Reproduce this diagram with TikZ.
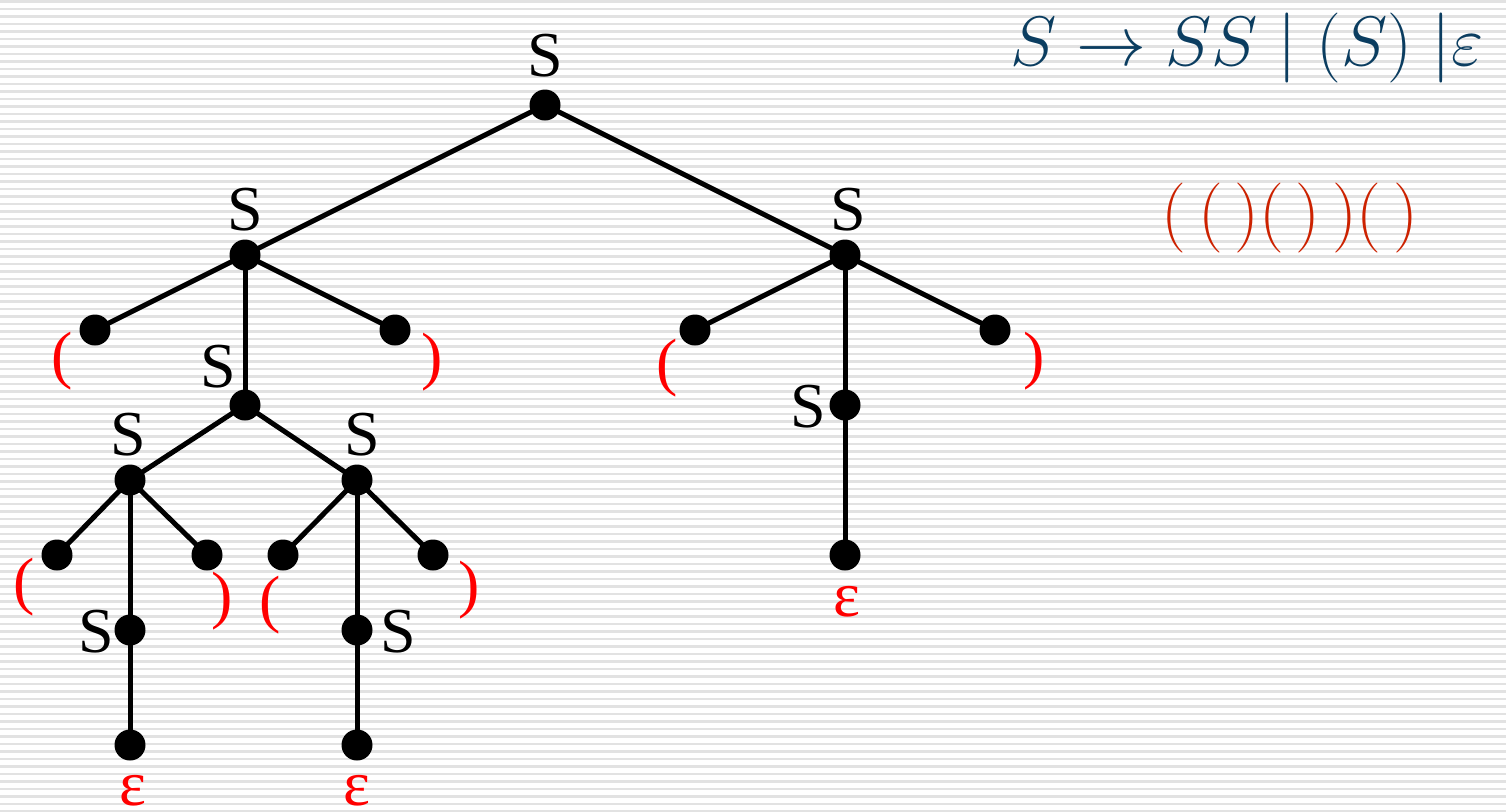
\documentclass[tikz,border=0pt]{standalone}
\usepackage{fix-cm}
\usepackage{fontspec}
\setmainfont{Liberation Serif}
\definecolor{formblue}{RGB}{11,61,96}
\definecolor{strred}{RGB}{204,34,0}
\definecolor{stripe}{RGB}{226,226,226}
\begin{document}
\begin{tikzpicture}[x=0.5pt,y=-0.5pt,
  dot/.style={circle,fill=black,inner sep=0pt,minimum size=15.5pt},
  edge/.style={line width=2.5pt},
  lab/.style={font=\fontsize{32}{36}\selectfont,anchor=base,inner sep=0pt},
  par/.style={font=\fontsize{32}{36}\selectfont,text=red,anchor=center,inner sep=0pt},
  eps/.style={font=\fontsize{32}{36}\selectfont,text=red,anchor=base,inner sep=0pt}]
\useasboundingbox (0,0) rectangle (1506,811);
\fill[white] (0,0) rectangle (1506,811);
\foreach \k in {0,...,108}{
  \fill[stripe] (0,{0.2+7.5*\k}) rectangle (1506,{2.6+7.5*\k});
}
% dots
\node[dot] (r) at (545,105) {};
\node[dot] (a) at (245,255) {};
\node[dot] (b) at (845,255) {};
\node[dot] (a1) at (95,330) {};
\node[dot] (a2) at (245,405) {};
\node[dot] (a3) at (395,330) {};
\node[dot] (b1) at (695,330) {};
\node[dot] (b2) at (845,405) {};
\node[dot] (b3) at (995,330) {};
\node[dot] (c) at (130,480) {};
\node[dot] (d) at (357,480) {};
\node[dot] (c1) at (57,555) {};
\node[dot] (c2) at (130,630) {};
\node[dot] (c3) at (207,555) {};
\node[dot] (d1) at (283,555) {};
\node[dot] (d2) at (357,630) {};
\node[dot] (d3) at (433,555) {};
\node[dot] (ce) at (130,745) {};
\node[dot] (de) at (357,745) {};
\node[dot] (be) at (845,555) {};
% edges
\draw[edge] (r.center) -- (a.center);
\draw[edge] (r.center) -- (b.center);
\draw[edge] (a.center) -- (a1.center);
\draw[edge] (a.center) -- (a2.center);
\draw[edge] (a.center) -- (a3.center);
\draw[edge] (b.center) -- (b1.center);
\draw[edge] (b.center) -- (b2.center);
\draw[edge] (b.center) -- (b3.center);
\draw[edge] (a2.center) -- (c.center);
\draw[edge] (a2.center) -- (d.center);
\draw[edge] (c.center) -- (c1.center);
\draw[edge] (c.center) -- (c2.center);
\draw[edge] (c.center) -- (c3.center);
\draw[edge] (d.center) -- (d1.center);
\draw[edge] (d.center) -- (d2.center);
\draw[edge] (d.center) -- (d3.center);
\draw[edge] (c2.center) -- (ce.center);
\draw[edge] (d2.center) -- (de.center);
\draw[edge] (b2.center) -- (be.center);
% S labels
\node[lab] (lr) at (545,76) {S};
\node[lab] (la) at (245,230) {S};
\node[lab] (lb) at (848,230) {S};
\node[lab] (la2) at (218,387) {S};
\node[lab] (lb2) at (808,427) {S};
\node[lab] (lc) at (128,455) {S};
\node[lab] (ld) at (362,455) {S};
\node[lab] (lc2) at (96,652) {S};
\node[lab] (ld2) at (398,652) {S};
% parens
\node[par] (pa1) at (62,361) {(};
\node[par] (pa3) at (432,362) {)};
\node[par] (pb1) at (667,368) {(};
\node[par] (pb3) at (1034,361) {)};
\node[par] (pc1) at (24,587) {(};
\node[par] (pc3) at (222,601) {)};
\node[par] (pd1) at (270,605) {(};
\node[par] (pd3) at (469,590) {)};
% epsilons
\node[eps] (ec) at (133,805) {ε};
\node[eps] (ed) at (357,805) {ε};
\node[eps] (eb) at (847,616) {ε};
% formulas
\node[anchor=base west,inner sep=0pt,text=formblue,font=\fontsize{35}{40}\selectfont] (rule) at (1010,65) {$S \rightarrow SS \mid (S)\;|\varepsilon$};
\node[anchor=center,inner sep=0pt,text=strred,font=\fontsize{35}{40}\selectfont] (word) at (1290,218) {$(\,(\,)(\,)\,)(\,)$};
\end{tikzpicture}
\end{document}
